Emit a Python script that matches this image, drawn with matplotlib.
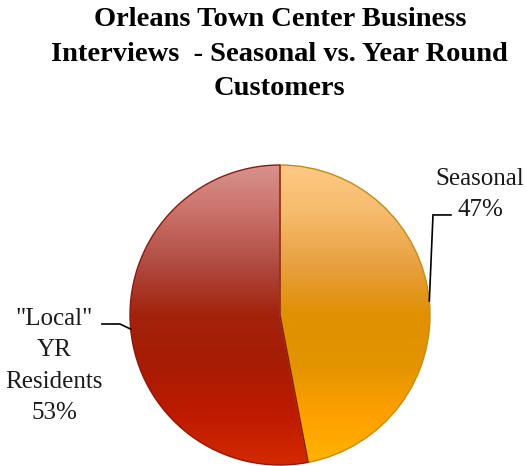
import numpy as np
import matplotlib
matplotlib.use("Agg")
import matplotlib.pyplot as plt
from matplotlib.colors import LinearSegmentedColormap

# ---- data ----
categories = ['Seasonal', '"Local"\nYR\nResidents']
values = [47, 53]
pct_labels = ['47%', '53%']
title = "Orleans Town Center Business\nInterviews  - Seasonal vs. Year Round\nCustomers"

# ---- style ----
grad_colors = [
    ['#FFB400', '#FFA000', '#E39400', '#E09000', '#E8A040', '#F6BA6A', '#FDC984'],
    ['#D42A00', '#BE1A00', '#A81C04', '#A2220C', '#B04A40', '#C87068', '#D9928C'],
]
edge_colors = ['#C98A10', '#8A1A10']
serif = ['Liberation Serif', 'DejaVu Serif']

fig = plt.figure(figsize=(5.26, 4.66), dpi=100)
ax = fig.add_axes([0, 0, 1, 1])

wedges, _ = ax.pie(values, startangle=90, counterclock=False, radius=1.0,
                   center=(0, 0), frame=True,
                   wedgeprops=dict(linewidth=1.0))
ax.set_xlim(-280 / 150, (526 - 280) / 150)
ax.set_ylim(-151 / 150, 315 / 150)
ax.set_aspect('equal')
ax.axis('off')

grad = np.linspace(0, 1, 256).reshape(-1, 1)
for w, cols, ec in zip(wedges, grad_colors, edge_colors):
    cmap = LinearSegmentedColormap.from_list('g', cols)
    w.set_facecolor('none')
    w.set_edgecolor(ec)
    w.set_zorder(3)
    im = ax.imshow(grad, cmap=cmap, origin='lower', extent=[-1, 1, -1, 1],
                   aspect='auto', zorder=2, interpolation='bilinear')
    im.set_clip_path(w)

# labels with leader lines
text_pos = [(1.333, 0.805), (-1.507, -0.34)]
elbow = [(1.02, 0.667, 1.14), (-1.067, -0.06, -1.187)]
for w, cat, pct, tp, el in zip(wedges, categories, pct_labels, text_pos, elbow):
    ang = np.deg2rad((w.theta1 + w.theta2) / 2)
    px, py = np.cos(ang), np.sin(ang)
    ax.plot([px, el[0], el[2]], [py, el[1], el[1]], color='black', lw=1.2,
            zorder=4, solid_joinstyle='miter')
    ax.text(tp[0], tp[1], f"{cat}\n{pct}", ha='center', va='center',
            fontsize=18, family=serif, color='#1a1a1a', linespacing=1.53)

fig.text(0.532, 0.984, title, ha='center', va='top', fontsize=20.5,
         fontweight='bold', family=serif, linespacing=1.5)

fig.savefig('out.png', dpi=100)
